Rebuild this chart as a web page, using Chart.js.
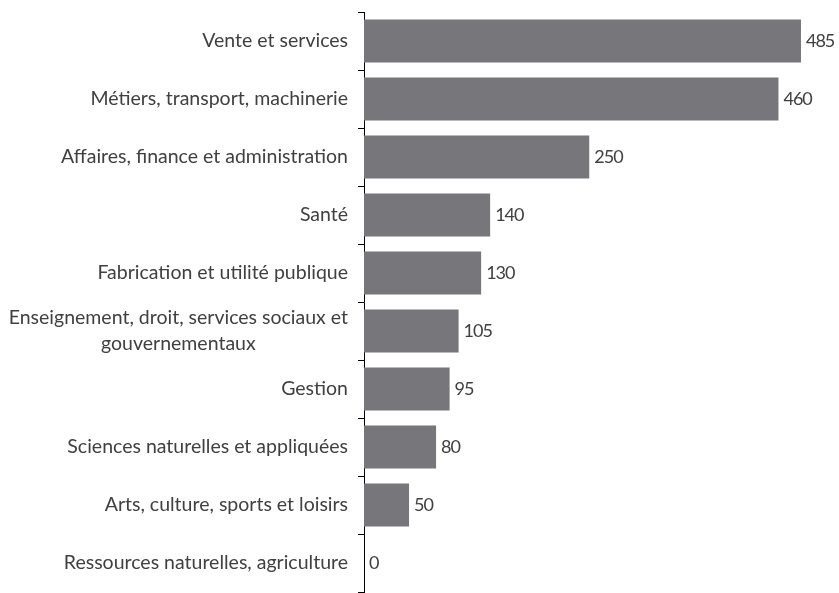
<!DOCTYPE html>
<html>
<head>
<meta charset="utf-8">
<script src="https://cdn.jsdelivr.net/npm/chart.js@4"></script>
<style>
  html, body { margin: 0; padding: 0; background: #fff; }
  #wrap { width: 839px; height: 593px; }
</style>
</head>
<body>
<div id="wrap"><canvas id="myChart"></canvas></div>
<script>
// Categories and values, top to bottom
const categories = [
    'Vente et services',
    'Métiers, transport, machinerie',
    'Affaires, finance et administration',
    'Santé',
    'Fabrication et utilité publique',
    ['Enseignement, droit, services sociaux et', 'gouvernementaux'],
    'Gestion',
    'Sciences naturelles et appliquées',
    'Arts, culture, sports et loisirs',
    'Ressources naturelles, agriculture'
];
const values = [485, 460, 250, 140, 130, 105, 95, 80, 50, 0];

const textColor = '#404040';
const labelFont = '19.5px Lato, "Open Sans", sans-serif';
const valueFont = '18px Lato, "Open Sans", sans-serif';

// Draws category labels (right aligned, multi-line centred) and value labels
const labelPlugin = {
    id: 'labels',
    afterDatasetsDraw(chart) {
        const ctx = chart.ctx;
        const yScale = chart.scales.y;
        const meta = chart.getDatasetMeta(0);
        ctx.save();
        ctx.font = labelFont;
        ctx.fillStyle = textColor;
        ctx.textBaseline = 'middle';
        const rightEdge = yScale.right - 16;
        const lineH = 26;
        categories.forEach((lab, i) => {
            const y = yScale.getPixelForValue(i);
            if (Array.isArray(lab)) {
                const w = Math.max(...lab.map(l => ctx.measureText(l).width));
                ctx.textAlign = 'center';
                lab.forEach((l, j) => {
                    ctx.fillText(l, rightEdge - w / 2, y + (j - (lab.length - 1) / 2) * lineH);
                });
            } else {
                ctx.textAlign = 'right';
                ctx.fillText(lab, rightEdge, y);
            }
        });
        // narrower digits, closer to the original font
        ctx.font = valueFont;
        ctx.letterSpacing = '-1px';
        ctx.textAlign = 'left';
        meta.data.forEach((bar, i) => {
            ctx.fillText(String(values[i]), bar.x + 5, bar.y);
        });
        ctx.letterSpacing = '0px';
        ctx.restore();
    }
};

const ctx = document.getElementById('myChart').getContext('2d');
const chart = new Chart(ctx, {
    type: 'bar',
    data: {
        labels: categories,
        datasets: [{
            data: values,
            backgroundColor: '#77777b',
            borderWidth: 0,
            barPercentage: 0.74,
            categoryPercentage: 1
        }]
    },
    options: {
        indexAxis: 'y',
        responsive: true,
        maintainAspectRatio: false,
        animation: false,
        layout: { padding: { top: 12, bottom: 1, left: 0, right: 24.5 } },
        plugins: {
            legend: { display: false },
            tooltip: { enabled: false }
        },
        scales: {
            x: {
                display: false,
                min: 0,
                max: 500
            },
            y: {
                grid: {
                    drawOnChartArea: false,
                    offset: true,
                    tickLength: 6,
                    color: '#000'
                },
                border: { color: '#000', width: 1 },
                ticks: { display: false },
                afterFit(scale) { scale.width = 364; }
            }
        }
    },
    plugins: [labelPlugin]
});
</script>
</body>
</html>
